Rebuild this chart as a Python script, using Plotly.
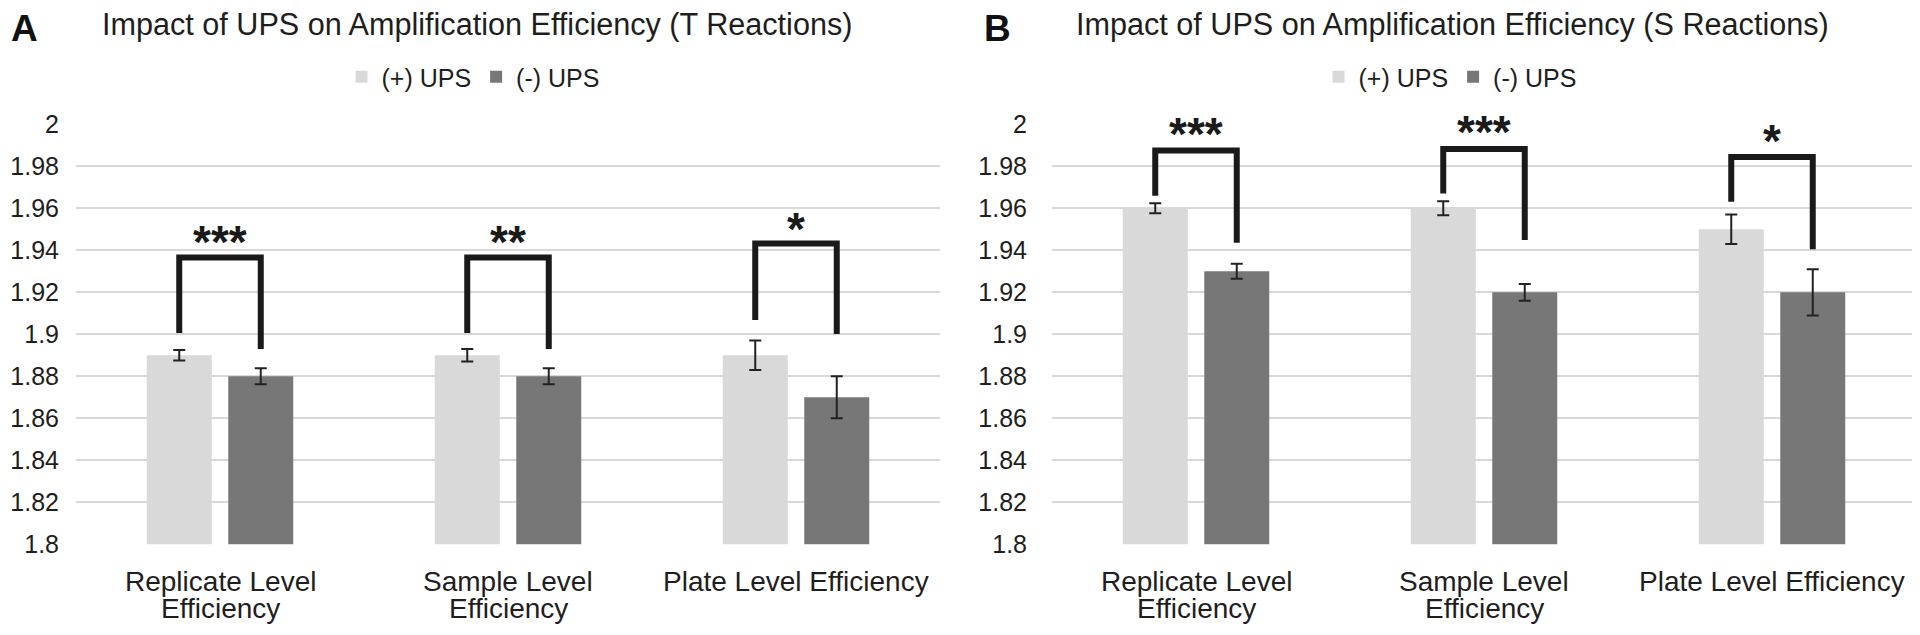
import plotly.graph_objects as go

# ---------------- data ----------------
categories = ["Replicate Level<br>Efficiency", "Sample Level<br>Efficiency", "Plate Level Efficiency"]
series_names = ["(+) UPS", "(-) UPS"]

# Panel A: T reactions
t_plus = [1.89, 1.89, 1.89]
t_plus_err = [0.0025, 0.003, 0.007]
t_minus = [1.88, 1.88, 1.87]
t_minus_err = [0.0038, 0.0038, 0.010]

# Panel B: S reactions
s_plus = [1.96, 1.96, 1.95]
s_plus_err = [0.0024, 0.0033, 0.007]
s_minus = [1.93, 1.92, 1.92]
s_minus_err = [0.0036, 0.004, 0.011]

# significance markers
t_sig = ["***", "**", "*"]
s_sig = ["***", "***", "*"]
t_bracket_top = [1.9366, 1.9366, 1.9432]
t_bracket_left = [1.9006, 1.9006, 1.9068]
t_bracket_right = [1.8930, 1.8930, 1.9002]
t_star_y = [1.9466, 1.9470, 1.9532]
s_bracket_top = [1.9875, 1.9882, 1.9844]
s_bracket_left = [1.9660, 1.9671, 1.9631]
s_bracket_right = [1.9436, 1.9449, 1.9405]
s_star_y = [1.9982, 1.9992, 1.9949]

y_ticks = [1.8, 1.82, 1.84, 1.86, 1.88, 1.9, 1.92, 1.94, 1.96, 1.98, 2.0]
y_tick_labels = ["1.8", "1.82", "1.84", "1.86", "1.88", "1.9", "1.92", "1.94", "1.96", "1.98", "2"]

titles = ["Impact of UPS on Amplification Efficiency (T Reactions)",
          "Impact of UPS on Amplification Efficiency (S Reactions)"]
panel_letters = ["A", "B"]

# ---------------- style / geometry ----------------
OX, OY = 8, 8                 # page body margin offset
W, H = 1920 - OX, 635 - OY


def px(xw):
    return (xw - OX) / W


def py(yw):
    return 1 - (yw - OY) / H


FONT = "Liberation Sans, Arial, sans-serif"
LIGHT = "#D9D9D9"
DARK = "#777777"
GRID = "#D9D9D9"
TEXT = "#1E1E1E"
BRACKET = "#1A1A1A"
BARGAP = 0.434
BARGROUPGAP = 0.2025

dom_a = [px(76), px(940)]
dom_b = [px(1052), px(1916)]
ydom = [py(544.3), py(124.3)]

xpos = list(range(len(categories)))
half = (1 - BARGAP) / 4  # offset of each bar centre from category centre

fig = go.Figure()

panels = [
    ("x", "y", "legend", t_plus, t_plus_err, t_minus, t_minus_err,
     t_bracket_top, t_bracket_left, t_bracket_right, t_sig, t_star_y),
    ("x2", "y2", "legend2", s_plus, s_plus_err, s_minus, s_minus_err,
     s_bracket_top, s_bracket_left, s_bracket_right, s_sig, s_star_y),
]

for (xa, ya, lg, pv, pe, mv, me, btop, bl, br, sig, sy) in panels:
    for name, vals, errs, col in [(series_names[0], pv, pe, LIGHT),
                                  (series_names[1], mv, me, DARK)]:
        fig.add_trace(go.Bar(
            x=xpos, y=vals, name=name, xaxis=xa, yaxis=ya, legend=lg,
            marker=dict(color=col, line=dict(width=0)),
            error_y=dict(type="data", array=errs, visible=True,
                         color="#222222", thickness=2, width=6),
            hoverinfo="y",
        ))
    for i in xpos:
        fig.add_trace(go.Scatter(
            x=[i - half, i - half, i + half, i + half],
            y=[bl[i], btop[i], btop[i], br[i]],
            mode="lines", xaxis=xa, yaxis=ya, showlegend=False,
            line=dict(color=BRACKET, width=6), hoverinfo="skip",
        ))
        fig.add_annotation(
            x=i, y=sy[i], xref=xa, yref=ya, text=sig[i], showarrow=False,
            font=dict(family=FONT, size=46, color=BRACKET, weight="bold"),
            xanchor="center", yanchor="middle", yshift=-6,
        )
    # category labels (two lines each, tight line spacing as in the reference)
    line_y = [py(581.5), py(608)]
    for i, cat in enumerate(categories):
        for j, line in enumerate(cat.split("<br>")):
            fig.add_annotation(
                x=i, y=line_y[j], xref=xa, yref="paper", text=line, showarrow=False,
                xanchor="center", yanchor="middle",
                font=dict(family=FONT, size=28, color=TEXT),
            )

axis_common = dict(
    showgrid=False, zeroline=False, showline=False, ticks="",
    showticklabels=False, range=[-0.5, 2.5], tickmode="array", tickvals=xpos,
    automargin=False, fixedrange=True,
)
yaxis_common = dict(
    range=[1.8, 2.0], tickmode="array", tickvals=y_ticks, ticktext=y_tick_labels,
    showgrid=True, gridcolor=GRID, gridwidth=2, zeroline=False, showline=False,
    ticks="", tickfont=dict(family=FONT, size=25, color=TEXT),
    automargin=False, fixedrange=True, domain=ydom,
)

fig.update_layout(
    width=W, height=H, template="none",
    paper_bgcolor="white", plot_bgcolor="white",
    margin=dict(l=0, r=0, t=0, b=0),
    barmode="group", bargap=BARGAP, bargroupgap=BARGROUPGAP,
    font=dict(family=FONT, color=TEXT),
    xaxis=dict(domain=dom_a, anchor="y", **axis_common),
    xaxis2=dict(domain=dom_b, anchor="y2", **axis_common),
    yaxis=dict(anchor="x", ticklabelstandoff=16, **yaxis_common),
    yaxis2=dict(anchor="x2", ticklabelstandoff=24, **yaxis_common),
    legend=dict(orientation="h", x=px(473), xanchor="center", y=py(77), yanchor="middle",
                font=dict(family=FONT, size=25, color=TEXT), bgcolor="rgba(0,0,0,0)"),
    legend2=dict(orientation="h", x=px(1450), xanchor="center", y=py(77), yanchor="middle",
                 font=dict(family=FONT, size=25, color=TEXT), bgcolor="rgba(0,0,0,0)"),
    showlegend=True,
)

title_x = [px(477), px(1452)]
letter_x = [px(9), px(982)]
for k in range(2):
    fig.add_annotation(x=title_x[k], y=py(25), xref="paper", yref="paper",
                       text=titles[k], showarrow=False, xanchor="center", yanchor="middle",
                       font=dict(family=FONT, size=30.6, color=TEXT))
    fig.add_annotation(x=letter_x[k], y=py(29), xref="paper", yref="paper",
                       text=panel_letters[k], showarrow=False, xanchor="left", yanchor="middle",
                       font=dict(family=FONT, size=37, color="#111111", weight="bold"))

fig.write_html("out.html")
